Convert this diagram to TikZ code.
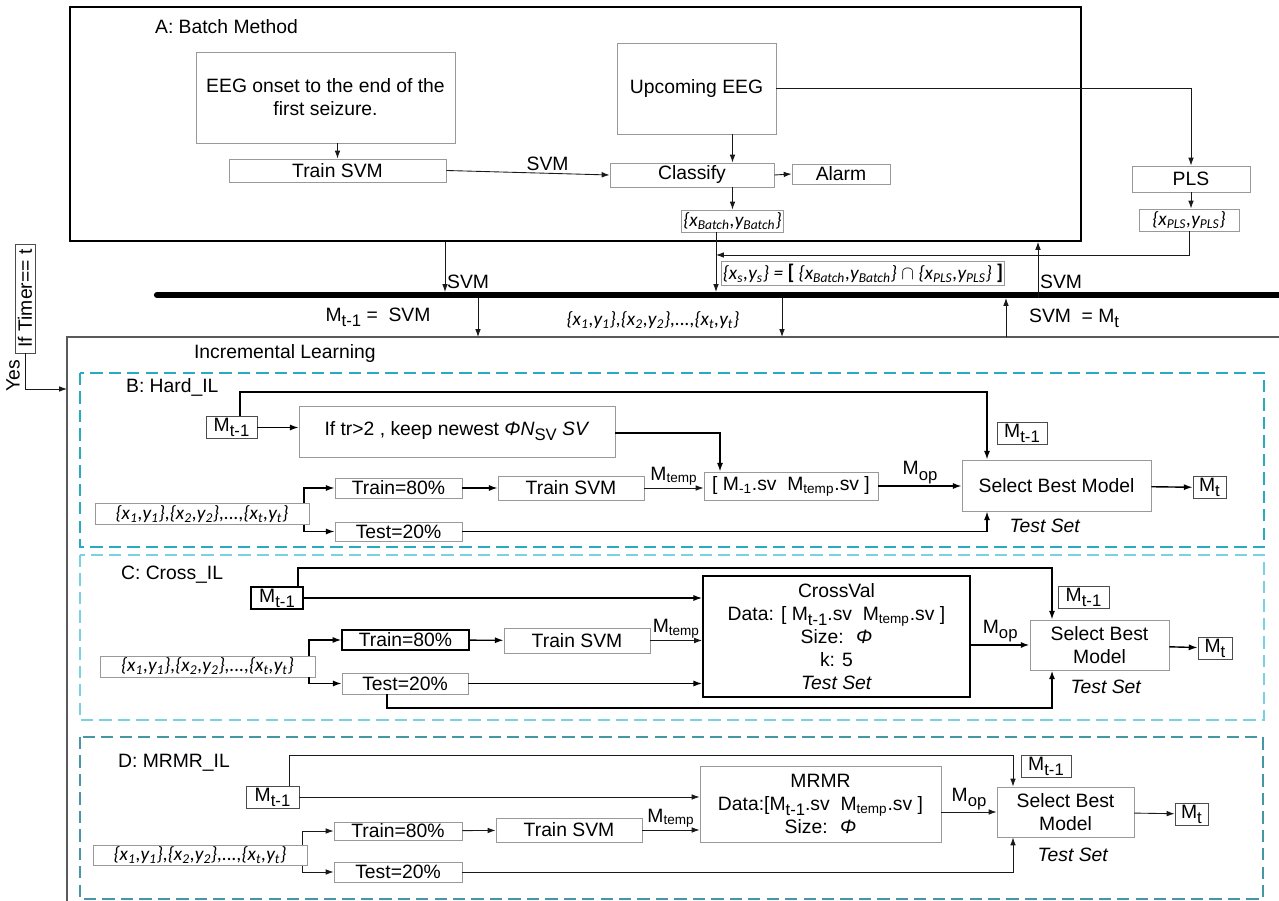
\documentclass[tikz,border=0pt]{standalone}
\usepackage{fontspec}
\setmainfont{Liberation Sans}
\newfontfamily\calfont{Carlito}
\usepackage{xcolor}
\usepackage{tikz}
\usetikzlibrary{arrows.meta,positioning}

\definecolor{hardcol}{RGB}{40,170,195}
\definecolor{crosscol}{RGB}{120,210,225}
\definecolor{mrmrcol}{RGB}{70,150,165}

\newcommand{\Msub}[1]{M\raisebox{-0.5ex}{\fontsize{9.5}{10}\selectfont #1}}
\newcommand{\Mtemp}{M\textsubscript{temp}}
\newcommand{\xylist}{{\calfont\itshape \{x\textsubscript{1},y\textsubscript{1}\},\{x\textsubscript{2},y\textsubscript{2}\},...,\{x\textsubscript{t},y\textsubscript{t}\}}}

\begin{document}
\begin{tikzpicture}[
    x=0.02cm, y=-0.02cm,
    font=\fontsize{11}{13.2}\selectfont,
    box/.style={draw=gray!80, line width=0.5pt, inner sep=1pt, align=center},
    boldbox/.style={draw=black, line width=0.8pt, inner sep=1pt, align=center},
    tag/.style={draw=gray!60!black, line width=0.5pt, inner sep=1pt},
    flow/.style={-{Latex[length=4.5pt,width=3.2pt]}, line width=0.5pt, draw=gray!20!black},
    ilflow/.style={-{Latex[length=5pt,width=3.5pt]}, line width=0.8pt},
    lbl/.style={inner sep=1pt},
    ilpart/.style={dash pattern=on 7pt off 3.5pt, line width=1.1pt},
]
\useasboundingbox (0,0) rectangle (1279,901);

% A: batch part
\node[draw=black, line width=1pt, minimum width=20.22cm, minimum height=4.68cm] (batch) at (575.5,124) {};
\node[lbl, anchor=west] (batchtitle) at (153,27) {A: Batch Method};
\node[box, minimum width=5.18cm, minimum height=1.82cm] (onset) at (325.5,97.5) {EEG onset to the end of the\\first seizure.};
\node[box, minimum width=4.34cm, minimum height=0.46cm] (trainA) at (337.5,170.5) {Train SVM};
\node[box, minimum width=3.18cm, minimum height=1.82cm] (upcoming) at (696.5,88.5) {Upcoming EEG};
\node[box, minimum width=3.28cm, minimum height=0.48cm] (classify) at (692,175) {Classify};
\node[box, minimum width=1.96cm, minimum height=0.4cm] (alarm) at (841,174) {Alarm};
\node[box, minimum width=1.94cm, minimum height=0.44cm] (xbatch) at (732.5,221) {\calfont\itshape \{x\textsubscript{Batch},y\textsubscript{Batch}\}};
\node[box, minimum width=2.36cm, minimum height=0.52cm] (pls) at (1191,179) {PLS};
\node[box, minimum width=2.0cm, minimum height=0.44cm] (xpls) at (1189,220) {\calfont\itshape \{x\textsubscript{PLS},y\textsubscript{PLS}\}};

\draw[flow] (onset.south -| trainA.north) -- (trainA.north);
\draw[flow] (trainA.east) -- node[lbl, above, pos=0.62] {SVM} (classify.west);
\draw[flow] (upcoming.south -| xbatch.north) -- (classify.north -| xbatch.north);
\draw[flow] (classify.south -| xbatch.north) -- (xbatch.north);
\draw[flow] (classify.east) -- (alarm.west);
\draw[flow] (upcoming.east) -| (pls.north);
\draw[flow] (pls.south) -- (pls.south |- xpls.north);

% bus
\coordinate (busL) at (157,295);
\coordinate (busR) at (1290,295);
\draw[line width=3.5pt, line cap=round] (busL) -- (busR);

\coordinate (svmin) at (445,292);
\draw[flow] (batch.south -| svmin) -- node[lbl, anchor=west, pos=0.8] {SVM} (svmin);
\coordinate (sin) at (716,292);
\coordinate (sjoin) at (716,255);
\draw[flow] (xbatch.south -| sin) -- (sin);
\draw[flow] (xpls.south) |- (sjoin);
\node[box, minimum width=5.56cm, minimum height=0.48cm] (sset) at (863,273) {\calfont\itshape \{x\textsubscript{s},y\textsubscript{s}\} = \textup{\textbf{\large [}}\ \{x\textsubscript{Batch},y\textsubscript{Batch}\} $\cap$ \{x\textsubscript{PLS},y\textsubscript{PLS}\}\ \textup{\textbf{\large ]}}};
\coordinate (svmout) at (1038,298);
\draw[flow] (svmout) -- node[lbl, anchor=west, pos=0.28] {SVM} (svmout |- batch.south);

% incremental learning frame
\coordinate (ilbot) at (67,910);
\coordinate (ilcorner) at (67,337);
\coordinate (ilright) at (1290,337);
\draw[gray!70!black, line width=0.6pt] (ilbot) -- (ilcorner) -- (ilright);
\node[lbl, anchor=west] (iltitle) at (192,354) {Incremental Learning};

\coordinate (mdown) at (478,337);
\coordinate (ddown) at (782,337);
\coordinate (mup) at (1006,337);
\draw[flow] (mdown |- svmout) -- (mdown);
\draw[flow] (ddown |- svmout) -- (ddown);
\draw[flow] (mup) -- (mup |- svmout);
\node[lbl] (mlabel) at (378,317) {\Msub{t-1} = \ SVM};
\node[lbl] (dlabel) at (653,320) {\xylist};
\node[lbl, anchor=west] (svmlabel) at (1027,318) {SVM \ = \Msub{t}};

% timer
\node[tag, rotate=90, minimum width=2.18cm, minimum height=0.4cm] (timer) at (25,298.5) {If Timer== t};
\node[lbl, rotate=90] (yes) at (13,376) {Yes};
\coordinate (ilin) at (67,389);
\draw[flow] (timer.west) |- (ilin);

% B: hard IL
\draw[hardcol, ilpart] (80,373) rectangle (1264,547);
\node[lbl, anchor=west] (hardtitle) at (124,387) {B: Hard\_IL};
\node[tag, minimum width=1.02cm, minimum height=0.42cm] (mB) at (231.5,427.5) {\Msub{t-1}};
\node[box, minimum width=6.32cm, minimum height=1.02cm] (keepB) at (457,431.5) {If tr>2 , keep newest \textit{Φ}\textit{N}\raisebox{-0.5ex}{\fontsize{9.5}{10}\selectfont SV} \textit{SV}};
\node[box, minimum width=4.28cm, minimum height=0.4cm] (listB) at (202,514) {\xylist};
\node[box, minimum width=2.54cm, minimum height=0.4cm] (trainB) at (398.5,488) {Train=80\%};
\node[box, minimum width=2.92cm, minimum height=0.48cm] (svmB) at (571,488) {Train SVM};
\node[box, minimum width=2.54cm, minimum height=0.38cm] (testB) at (398.5,531.5) {Test=20\%};
\node[box, minimum width=3.48cm, minimum height=0.56cm] (svB) at (791,486) {[ M\textsubscript{-1}.sv \ \Mtemp.sv ]};
\node[box, minimum width=3.78cm, minimum height=1.02cm] (selB) at (1056.5,485.5) {Select Best Model};
\node[tag, minimum width=0.66cm, minimum height=0.38cm] (mtB) at (1209.5,487.5) {\Msub{t}};
\node[tag, minimum width=1.0cm, minimum height=0.4cm] (mlB) at (1022,433) {\Msub{t-1}};
\node[lbl] (tsB) at (1045,526) {\textit{Test Set}};

\coordinate (hb1) at (240,392);
\coordinate (hb2) at (987,392);
\coordinate (hb3) at (720,433);
\coordinate (hbr) at (304,514);
\draw[ilflow] (mB.north -| hb1) -- (hb1) -- (hb2) -- (selB.north -| hb2);
\draw[ilflow] (mB.east) -- (mB.east -| keepB.west);
\draw[ilflow] (keepB.east |- hb3) -- (hb3) -- (svB.north -| hb3);
\draw[ilflow] (listB.north -| hbr) |- (trainB.west);
\draw[ilflow] (listB.south -| hbr) |- (testB.west);
\draw[ilflow] (trainB) -- (svmB);
\draw[flow] (svmB.east) -- node[lbl, above] {\Mtemp} (svmB.east -| svB.west);
\draw[ilflow] (svB.east) -- node[lbl, above] {\Msub{op}} (svB.east -| selB.west);
\draw[ilflow] (testB.east) -| (selB.south -| hb2);
\draw[ilflow] (selB) -- (mtB);

% C: cross IL
\draw[crosscol, ilpart] (80,555) rectangle (1264,720);
\node[lbl, anchor=west] (crosstitle) at (119,575) {C: Cross\_IL};
\node[boldbox, minimum width=1.04cm, minimum height=0.4cm] (mC) at (277,598) {\Msub{t-1}};
\node[boldbox, line width=1pt, minimum width=5.34cm, minimum height=2.42cm] (crossC) at (836.5,636.5) {CrossVal\\Data: [ \Msub{t-1}.sv \ \Mtemp.sv ]\\Size: \ \textit{Φ}\\k: 5\\\textit{Test Set}};
\node[box, minimum width=4.3cm, minimum height=0.42cm] (listC) at (207.5,666.5) {\xylist};
\node[boldbox, minimum width=2.54cm, minimum height=0.4cm] (trainC) at (405.5,640) {Train=80\%};
\node[box, minimum width=2.92cm, minimum height=0.5cm] (svmC) at (577,640.5) {Train SVM};
\node[box, minimum width=2.52cm, minimum height=0.42cm] (testC) at (405,683.5) {Test=20\%};
\node[box, minimum width=2.78cm, minimum height=1.0cm] (selC) at (1099.5,645) {Select Best\\Model};
\node[tag, minimum width=1.02cm, minimum height=0.38cm] (mlC) at (1083.5,597.5) {\Msub{t-1}};
\node[lbl] (tsC) at (1106,687) {\textit{Test Set}};
\node[tag, minimum width=0.68cm, minimum height=0.4cm] (mtC) at (1215,648) {\Msub{t}};

\coordinate (cb1) at (298,568);
\coordinate (cb2) at (1052,568);
\coordinate (cb3) at (387,708);
\coordinate (cbr) at (309,666.5);
\draw[ilflow] (mC.north -| cb1) -- (cb1) -- (cb2) -- (selC.north -| cb2);
\draw[ilflow] (mC.east) -- (mC.east -| crossC.west);
\draw[ilflow] (listC.north -| cbr) |- (trainC.west);
\draw[ilflow] (listC.south -| cbr) |- (testC.west);
\draw[ilflow] (trainC) -- (svmC);
\draw[flow] (svmC.east) -- node[lbl, above] {\Mtemp} (svmC.east -| crossC.west);
\draw[ilflow] (testC.east) -- (testC.east -| crossC.west);
\draw[ilflow, line width=1.2pt] (testC.south -| cb3) -- (cb3) -| (selC.south -| cb2);
\draw[ilflow, line width=1.1pt] (selC.west -| crossC.east) -- node[lbl, above] {\Msub{op}} (selC.west);
\draw[ilflow] (selC) -- (mtC);

% D: MRMR IL
\draw[mrmrcol, ilpart] (80,737) rectangle (1263,899);
\node[lbl, anchor=west] (mrmrtitle) at (116,763) {D: MRMR\_IL};
\node[tag, minimum width=1.06cm, minimum height=0.4cm] (mD) at (272.5,797) {\Msub{t-1}};
\node[box, minimum width=4.82cm, minimum height=1.52cm] (mrmrD) at (820.5,804) {MRMR\\Data:[\Msub{t-1}.sv \ \Mtemp.sv ]\\Size: \ \textit{Φ}};
\node[box, minimum width=4.28cm, minimum height=0.38cm] (listD) at (200,855.5) {\xylist};
\node[box, minimum width=2.56cm, minimum height=0.36cm] (trainD) at (398,831) {Train=80\%};
\node[box, minimum width=2.92cm, minimum height=0.48cm] (svmD) at (569,830) {Train SVM};
\node[box, minimum width=2.56cm, minimum height=0.4cm] (testD) at (398,872) {Test=20\%};
\node[box, minimum width=2.74cm, minimum height=1.0cm] (selD) at (1065.5,812) {Select Best\\Model};
\node[tag, minimum width=1.0cm, minimum height=0.4cm] (mlD) at (1046,766) {\Msub{t-1}};
\node[lbl] (tsD) at (1073,855) {\textit{Test Set}};
\node[tag, minimum width=0.66cm, minimum height=0.36cm] (mtD) at (1191.5,814) {\Msub{t}};

\coordinate (db1) at (289,755);
\coordinate (db2) at (1013,755);
\coordinate (dbr) at (302,855.5);
\draw[flow] (mD.north -| db1) -- (db1) -- (db2) -- (selD.north -| db2);
\draw[flow] (mD.east) -- (mD.east -| mrmrD.west);
\draw[flow] (listD.north -| dbr) |- (trainD.west);
\draw[flow] (listD.south -| dbr) |- (testD.west);
\draw[flow] (trainD) -- (svmD);
\draw[flow] (svmD.east) -- node[lbl, above] {\Mtemp} (svmD.east -| mrmrD.west);
\draw[flow] (testD.east) -| (selD.south -| db2);
\draw[flow] (selD.west -| mrmrD.east) -- node[lbl, above] {\Msub{op}} (selD.west);
\draw[flow] (selD) -- (mtD);

\end{tikzpicture}
\end{document}
